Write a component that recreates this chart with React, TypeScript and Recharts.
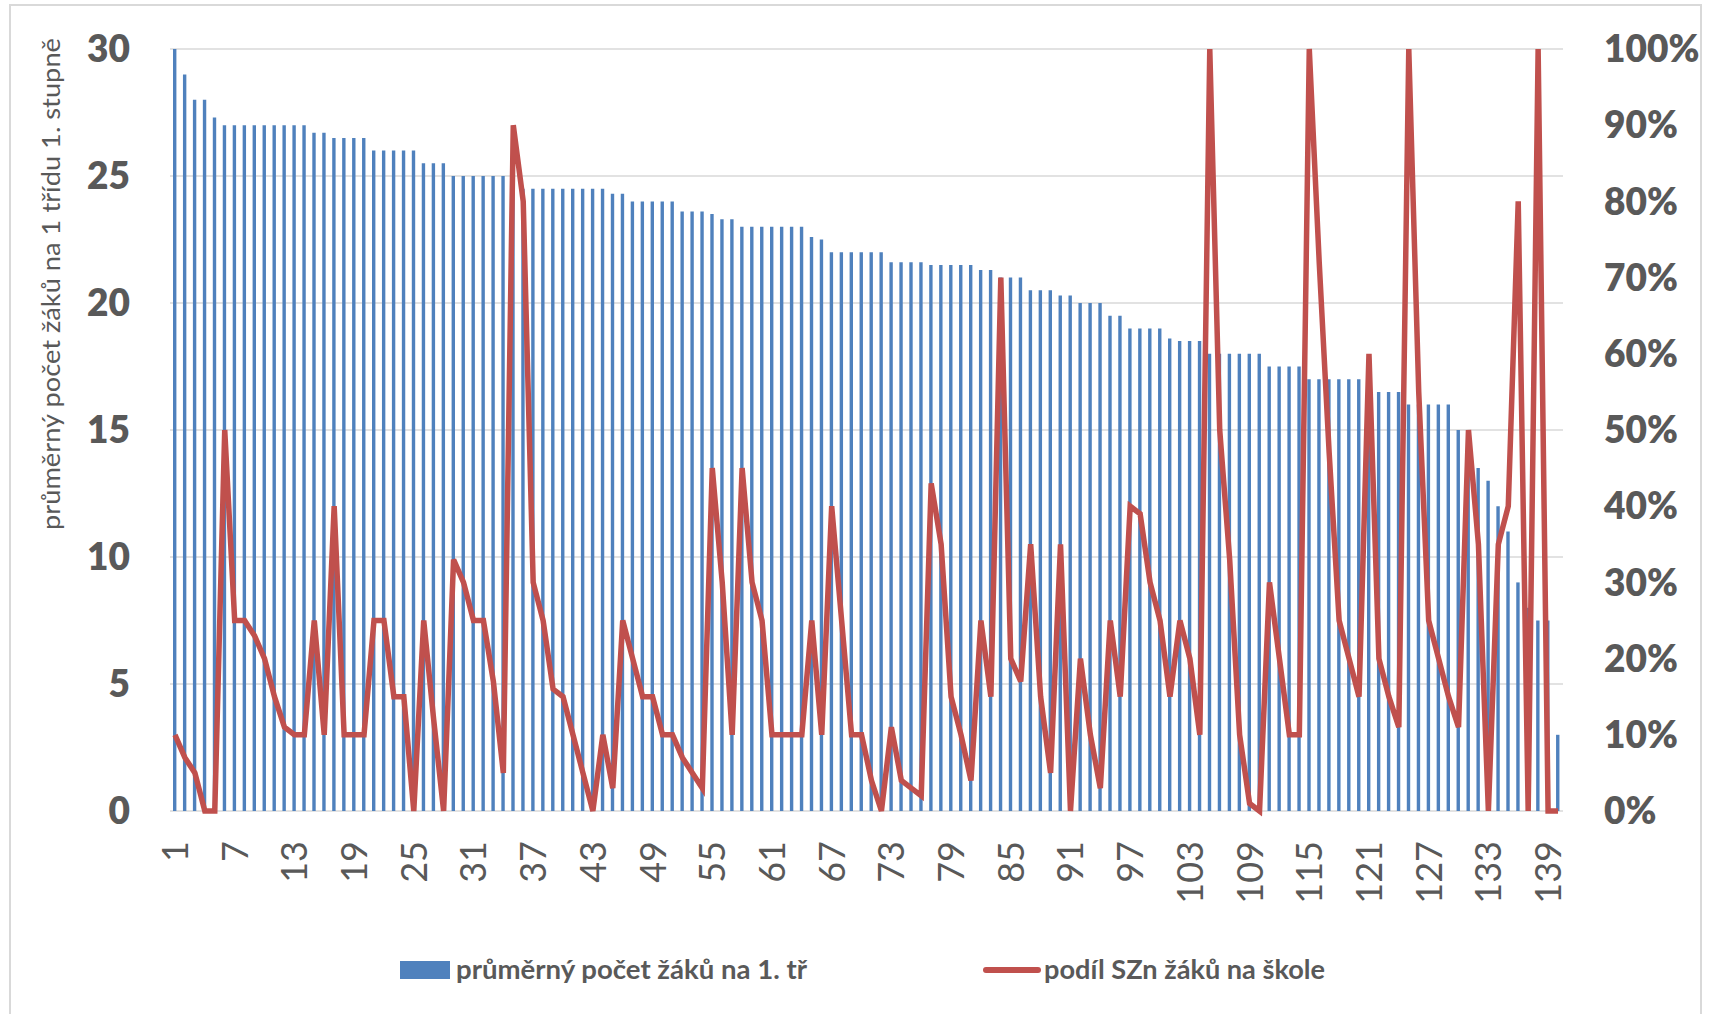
import { ComposedChart, Bar, Line, XAxis, YAxis, CartesianGrid, Legend, Label } from "recharts"

// čísla škol 1..140 (kategorie)
const schools = Array.from({ length: 140 }, (_, i) => i + 1)

// průměrný počet žáků na 1 třídu 1. stupně
const avgPupils = [
  30, 29, 28, 28, 27.3, 27, 27, 27, 27, 27,
  27, 27, 27, 27, 26.7, 26.7, 26.5, 26.5, 26.5, 26.5,
  26, 26, 26, 26, 26, 25.5, 25.5, 25.5, 25, 25,
  25, 25, 25, 25, 25, 24.5, 24.5, 24.5, 24.5, 24.5,
  24.5, 24.5, 24.5, 24.5, 24.3, 24.3, 24, 24, 24, 24,
  24, 23.6, 23.6, 23.6, 23.5, 23.3, 23.3, 23, 23, 23,
  23, 23, 23, 23, 22.6, 22.5, 22, 22, 22, 22,
  22, 22, 21.6, 21.6, 21.6, 21.6, 21.5, 21.5, 21.5, 21.5,
  21.5, 21.3, 21.3, 21, 21, 21, 20.5, 20.5, 20.5, 20.3,
  20.3, 20, 20, 20, 19.5, 19.5, 19, 19, 19, 19,
  18.6, 18.5, 18.5, 18.5, 18, 18, 18, 18, 18, 18,
  17.5, 17.5, 17.5, 17.5, 17, 17, 17, 17, 17, 17,
  16.5, 16.5, 16.5, 16.5, 16, 16, 16, 16, 16, 15,
  14, 13.5, 13, 12, 11, 9, 8, 7.5, 7.5, 3,
]

// podíl SZn žáků na škole (v %)
const szShare = [
  10, 7, 5, 0, 0, 50, 25, 25, 23, 20,
  15, 11, 10, 10, 25, 10, 40, 10, 10, 10,
  25, 25, 15, 15, 0, 25, 12, 0, 33, 30,
  25, 25, 17, 5, 90, 80, 30, 25, 16, 15,
  10, 5, 0, 10, 3, 25, 20, 15, 15, 10,
  10, 7, 5, 3, 45, 30, 10, 45, 30, 25,
  10, 10, 10, 10, 25, 10, 40, 25, 10, 10,
  4, 0, 11, 4, 3, 2, 43, 35, 15, 10,
  4, 25, 15, 70, 20, 17, 35, 15, 5, 35,
  0, 20, 10, 3, 25, 15, 40, 39, 30, 25,
  15, 25, 20, 10, 100, 50, 33, 10, 1, 0,
  30, 20, 10, 10, 100, 72, 47, 25, 20, 15,
  60, 20, 15, 11, 100, 55, 25, 20, 15, 11,
  50, 35, 0, 35, 40, 80, 0, 100, 0, 0,
]

const leftTicks = [0, 5, 10, 15, 20, 25, 30]
const rightTicks = [0, 0.1, 0.2, 0.3, 0.4, 0.5, 0.6, 0.7, 0.8, 0.9, 1]

const data = schools.map((s, i) => ({ school: s, pupils: avgPupils[i], share: szShare[i] / 100 }))

const TEXT = "#595959"
const BLUE = "#4f81bd"
const RED = "#c0504d"

function XTick({ x, y, payload }: any) {
  return (
    <text
      transform={`translate(${x},${y}) rotate(-90)`}
      textAnchor="end"
      dy="0.36em"
      fill={TEXT}
      fontSize={36}
      fontFamily="Lato"
    >
      {payload.value}
    </text>
  )
}

function AxisTitle() {
  return (
    <text
      transform="translate(51,284) rotate(-90)"
      textAnchor="middle"
      dy="0.35em"
      fill={TEXT}
      fontSize={25}
      fontFamily="Lato"
      textLength={492}
      lengthAdjust="spacingAndGlyphs"
    >
      průměrný počet žáků na 1 třídu 1. stupně
    </text>
  )
}

// pozice položek legendy podle série
const legendLayout: Record<string, { iconX: number; textX: number; textLen: number }> = {
  pupils: { iconX: 400, textX: 456, textLen: 351 },
  share: { iconX: 986, textX: 1044, textLen: 281 },
}

function LegendContent({ payload }: any) {
  return (
    <svg width={1714} height={50} style={{ display: "block" }}>
      {(payload || []).map((entry: any, i: number) => {
        const pos = legendLayout[entry.dataKey]
        if (!pos) return null
        return (
          <g key={i}>
            {entry.dataKey === "share" ? (
              <line x1={pos.iconX} x2={pos.iconX + 52} y1={25} y2={25} stroke={RED} strokeWidth={6} strokeLinecap="round" />
            ) : (
              <rect x={pos.iconX} y={16} width={50} height={18} fill={BLUE} />
            )}
            <text
              x={pos.textX}
              y={25}
              dy="0.35em"
              fill={TEXT}
              fontSize={27}
              fontWeight={700}
              fontFamily="Lato"
              textLength={pos.textLen}
              lengthAdjust="spacingAndGlyphs"
            >
              {entry.value}
            </text>
          </g>
        )
      })}
    </svg>
  )
}

export default function App() {
  return (
    <div style={{ position: "absolute", left: 0, top: 0, width: 1714, height: 1014, overflow: "hidden", background: "#fff" }}>
      <div
        style={{
          position: "absolute",
          left: 9,
          top: 4,
          width: 1693,
          height: 1040,
          border: "2px solid #d9d9d9",
          boxSizing: "border-box",
        }}
      />
      <div style={{ position: "absolute", left: 0, top: 0 }}>
        <ComposedChart width={1714} height={1014} data={data} margin={{ top: 49, right: 0, bottom: 0, left: 0 }}>
          <CartesianGrid vertical={false} yAxisId="left" stroke="#d9d9d9" strokeWidth={1.4} />
          <XAxis
            dataKey="school"
            interval={5}
            height={203}
            axisLine={false}
            tickLine={false}
            tickSize={0}
            tickMargin={30}
            tick={<XTick />}
          />
          <YAxis
            yAxisId="left"
            orientation="left"
            width={170}
            domain={[0, 30]}
            ticks={leftTicks}
            axisLine={false}
            tickLine={false}
            tickSize={0}
            tickMargin={40}
            tick={{ fill: TEXT, fontSize: 37, fontWeight: 800, fontFamily: "Lato" }}
          >
            <Label content={<AxisTitle />} />
          </YAxis>
          <YAxis
            yAxisId="right"
            orientation="right"
            width={151}
            domain={[0, 1]}
            ticks={rightTicks}
            axisLine={false}
            tickLine={false}
            tickSize={0}
            tickMargin={41}
            tickFormatter={(v: number) => `${Math.round(v * 100)}%`}
            tick={{ fill: TEXT, fontSize: 37, fontWeight: 800, fontFamily: "Lato" }}
          />
          <Bar
            yAxisId="left"
            dataKey="pupils"
            name="průměrný počet žáků na 1. tř"
            fill={BLUE}
            barSize={3.4}
            isAnimationActive={false}
          />
          <Line
            yAxisId="right"
            dataKey="share"
            name="podíl SZn žáků na škole"
            type="linear"
            stroke={RED}
            strokeWidth={5.5}
            dot={false}
            activeDot={false}
            isAnimationActive={false}
          />
          <Legend
            layout="horizontal"
            verticalAlign="middle"
            align="center"
            content={<LegendContent />}
            wrapperStyle={{ top: 945, left: 0, width: 1714, height: 50 }}
          />
        </ComposedChart>
      </div>
    </div>
  )
}
